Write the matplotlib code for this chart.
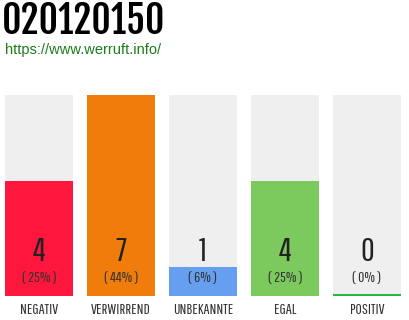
#!/usr/bin/python
#################################
# Importing Modules
#################################
import matplotlib
matplotlib.use("Agg")
import matplotlib.pyplot as plt

#################################
# Defining Constants
#################################
TITLE = "020120150"
URL = "https://www.werruft.info/"

categories = ["NEGATIV", "VERWIRREND", "UNBEKANNTE", "EGAL", "POSITIV"]
counts = [4, 7, 1, 4, 0]
percents = ["( 25% )", "( 44% )", "( 6% )", "( 25% )", "( 0% )"]
colors = ["#ff163c", "#f07d0b", "#669ff0", "#7cca5e", "#22bb44"]

W, H = 410, 320
THIN = ["Pathway Gothic One", "DejaVu Sans"]
HEAVY = ["Fjalla One", "DejaVu Sans"]


#################################
# Performing Work
#################################
if __name__ == "__main__":
    fig = plt.figure(figsize=(W / 100, H / 100), dpi=100)

    # bar area in pixel terms: x 5..401, y 95..296
    ax = fig.add_axes([5 / W, (H - 296) / H, 396 / W, 201 / H])
    n = len(categories)
    step = 82.0
    bw = 68.0 / step
    top = max(counts)
    xs = list(range(n))

    ax.bar(xs, [top] * n, width=bw, color="#efefef", zorder=1)
    for i, (v, c) in enumerate(zip(counts, colors)):
        if v > 0:
            ax.bar(i, v, width=bw, color=c, zorder=2)
        else:
            ax.bar(i, top * 0.01, width=bw, color=c, zorder=2)

    ax.set_xlim(-bw / 2, n - 1 + bw / 2)
    ax.set_ylim(0, top)
    ax.axis("off")

    # value labels and percentages (pixel positions from the top)
    for i in xs:
        ax.text(i, top * (296 - 252) / 201, str(counts[i]), ha="center",
                va="center", fontsize=24, color="#222222", family=THIN,
                zorder=3)
        ax.text(i, top * (296 - 278) / 201, percents[i], ha="center",
                va="center", fontsize=11, color="#333333", family=THIN,
                zorder=3)
        ax.text(i, -top * (310 - 296) / 201, categories[i], ha="center",
                va="center", fontsize=11, color="#333333", family=THIN,
                clip_on=False)

    fig.text(2 / W, 1 - 21 / H, TITLE, ha="left", va="center", fontsize=27,
             color="black", family=HEAVY)
    fig.text(5 / W, 1 - 50 / H, URL, ha="left", va="center", fontsize=10.5,
             color="#1a7d1a", family=["Liberation Sans", "DejaVu Sans"])

    fig.savefig("out.png", dpi=100)
